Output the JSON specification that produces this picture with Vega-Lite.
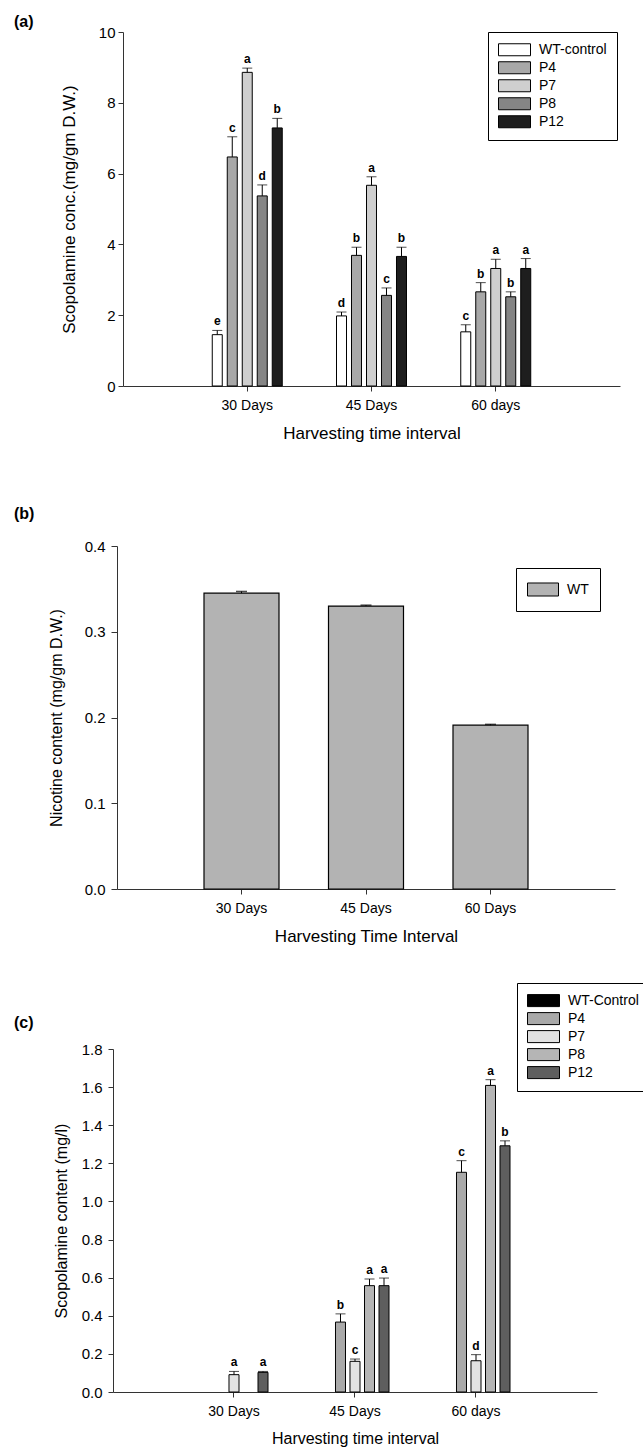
{
  "$schema": "https://vega.github.io/schema/vega-lite/v6.json",
  "background": "white",
  "padding": {"left": 14, "top": 14, "right": 0, "bottom": 4},
  "bounds": "flush",
  "spacing": 160,
  "resolve": {"scale": {"fill": "independent", "y": "independent", "x": "independent", "xOffset": "independent"}, "legend": {"fill": "independent"}},
  "config": {
    "font": "Liberation Sans",
    "view": {"stroke": null},
    "axis": {"domainColor": "#333", "tickColor": "#333", "labelColor": "black", "titleColor": "black", "grid": false, "labelFont": "Liberation Sans", "titleFont": "Liberation Sans", "titleFontWeight": "normal", "tickSize": 5, "labelFlush": false, "labelOverlap": false},
    "title": {"font": "Liberation Sans", "fontWeight": "bold", "fontSize": 16, "anchor": "start", "frame": "group", "color": "black"},
    "legend": {"labelFont": "Liberation Sans", "labelColor": "black", "strokeColor": "black", "fillColor": "white", "symbolStrokeColor": "black", "symbolStrokeWidth": 1, "symbolOpacity": 1, "title": null}
  },
  "vconcat": [
    {
      "title": {"text": "(a)", "dx": -99, "offset": -5},
      "width": 507,
      "height": 354,
      "data": {"values": [
        {"time": "30 Days", "line": "WT-control", "value": 1.45, "err": 1.57, "sig": "e"},
        {"time": "30 Days", "line": "P4", "value": 6.47, "err": 7.04, "sig": "c"},
        {"time": "30 Days", "line": "P7", "value": 8.86, "err": 8.98, "sig": "a"},
        {"time": "30 Days", "line": "P8", "value": 5.37, "err": 5.68, "sig": "d"},
        {"time": "30 Days", "line": "P12", "value": 7.29, "err": 7.56, "sig": "b"},
        {"time": "45 Days", "line": "WT-control", "value": 1.98, "err": 2.09, "sig": "d"},
        {"time": "45 Days", "line": "P4", "value": 3.69, "err": 3.92, "sig": "b"},
        {"time": "45 Days", "line": "P7", "value": 5.67, "err": 5.91, "sig": "a"},
        {"time": "45 Days", "line": "P8", "value": 2.56, "err": 2.77, "sig": "c"},
        {"time": "45 Days", "line": "P12", "value": 3.66, "err": 3.92, "sig": "b"},
        {"time": "60 days", "line": "WT-control", "value": 1.53, "err": 1.73, "sig": "c"},
        {"time": "60 days", "line": "P4", "value": 2.66, "err": 2.92, "sig": "b"},
        {"time": "60 days", "line": "P7", "value": 3.32, "err": 3.58, "sig": "a"},
        {"time": "60 days", "line": "P8", "value": 2.52, "err": 2.66, "sig": "b"},
        {"time": "60 days", "line": "P12", "value": 3.32, "err": 3.6, "sig": "a"}
      ]},
      "encoding": {
        "x": {"field": "time", "type": "nominal", "sort": ["30 Days", "45 Days", "60 days"],
          "scale": {"range": [10, 507], "paddingInner": 0.3964, "paddingOuter": 0.6982},
          "axis": {"title": "Harvesting time interval", "labelAngle": 0, "labelFontSize": 14, "titleFontSize": 17, "labelPadding": 7, "titlePadding": 13}},
        "xOffset": {"field": "line", "type": "nominal", "scale": {"domain": ["WT-control", "P4", "P7", "P8", "P12"], "paddingInner": 0.3333, "paddingOuter": 0.1667}}
      },
      "layer": [
        {
          "mark": {"type": "bar", "stroke": "black", "strokeWidth": 1},
          "encoding": {
            "y": {"field": "value", "type": "quantitative", "title": "Scopolamine conc.(mg/gm D.W.)",
              "scale": {"domain": [0, 10], "nice": false},
              "axis": {"values": [0, 2, 4, 6, 8, 10], "format": "d", "offset": -10, "labelFontSize": 15, "titleFontSize": 17, "labelPadding": 3, "titlePadding": 20, "labelOverlap": false}},
            "fill": {"field": "line", "type": "nominal",
              "scale": {"domain": ["WT-control", "P4", "P7", "P8", "P12"], "range": ["#ffffff", "#a8a8a8", "#cfcfcf", "#858585", "#1e1e1e"]},
              "legend": {"orient": "none", "legendX": 375, "legendY": 0, "symbolType": "M-1,-0.375H1V0.375H-1Z", "symbolSize": 1024, "labelFontSize": 14, "padding": 10, "clipHeight": 15.5, "rowPadding": 2, "labelOffset": 8}}
          }
        },
        {
          "mark": {"type": "rule", "color": "black", "strokeWidth": 1},
          "encoding": {"y": {"field": "value", "type": "quantitative", "title": "Scopolamine conc.(mg/gm D.W.)", "axis": {"values": [0, 2, 4, 6, 8, 10], "format": "d", "offset": -10, "labelFontSize": 15, "titleFontSize": 17, "labelPadding": 3, "titlePadding": 20, "labelOverlap": false}}, "y2": {"field": "err"}}
        },
        {
          "mark": {"type": "tick", "color": "black", "thickness": 1, "size": 10},
          "encoding": {"y": {"field": "err", "type": "quantitative", "title": "Scopolamine conc.(mg/gm D.W.)", "axis": {"values": [0, 2, 4, 6, 8, 10], "format": "d", "offset": -10, "labelFontSize": 15, "titleFontSize": 17, "labelPadding": 3, "titlePadding": 20, "labelOverlap": false}}}
        },
        {
          "mark": {"type": "text", "fontWeight": "bold", "fontSize": 12, "baseline": "bottom", "dy": -2, "color": "black"},
          "encoding": {"y": {"field": "err", "type": "quantitative", "title": "Scopolamine conc.(mg/gm D.W.)", "axis": {"values": [0, 2, 4, 6, 8, 10], "format": "d", "offset": -10, "labelFontSize": 15, "titleFontSize": 17, "labelPadding": 3, "titlePadding": 20, "labelOverlap": false}}, "text": {"field": "sig"}}
        }
      ]
    },
    {
      "title": {"text": "(b)", "dx": -99, "offset": 17},
      "width": 502,
      "height": 343,
      "data": {"values": [
        {"time": "30 Days", "line": "WT", "value": 0.345, "err": 0.347},
        {"time": "45 Days", "line": "WT", "value": 0.33, "err": 0.331},
        {"time": "60 Days", "line": "WT", "value": 0.191, "err": 0.192}
      ]},
      "encoding": {
        "x": {"field": "time", "type": "nominal", "sort": ["30 Days", "45 Days", "60 Days"],
          "scale": {"range": [4, 502], "paddingInner": 0.3976, "paddingOuter": 0.6988},
          "axis": {"title": "Harvesting Time Interval", "labelAngle": 0, "labelFontSize": 14, "titleFontSize": 17, "labelPadding": 7, "titlePadding": 13}}
      },
      "layer": [
        {
          "mark": {"type": "bar", "stroke": "black", "strokeWidth": 1.2},
          "encoding": {
            "y": {"field": "value", "type": "quantitative", "title": "Nicotine content (mg/gm D.W.)",
              "scale": {"domain": [0, 0.4], "nice": false},
              "axis": {"values": [0, 0.1, 0.2, 0.3, 0.4], "format": ".1f", "offset": -4, "tickSize": 6, "labelFontSize": 15, "titleFontSize": 16, "labelPadding": 6, "titlePadding": 20, "labelOverlap": false}},
            "fill": {"field": "line", "type": "nominal",
              "scale": {"domain": ["WT"], "range": ["#b3b3b3"]},
              "legend": {"orient": "none", "legendX": 403, "legendY": 22, "symbolType": "M-1,-0.42H1V0.42H-1Z", "symbolSize": 961, "labelFontSize": 14, "padding": 11, "clipHeight": 21, "labelOffset": 8}}
          }
        },
        {
          "mark": {"type": "rule", "color": "black", "strokeWidth": 1},
          "encoding": {"y": {"field": "value", "type": "quantitative", "title": "Nicotine content (mg/gm D.W.)", "axis": {"values": [0, 0.1, 0.2, 0.3, 0.4], "format": ".1f", "offset": -4, "tickSize": 6, "labelFontSize": 15, "titleFontSize": 16, "labelPadding": 6, "titlePadding": 20, "labelOverlap": false}}, "y2": {"field": "err"}}
        },
        {
          "mark": {"type": "tick", "color": "black", "thickness": 1.5, "size": 11},
          "encoding": {"y": {"field": "err", "type": "quantitative", "title": "Nicotine content (mg/gm D.W.)", "axis": {"values": [0, 0.1, 0.2, 0.3, 0.4], "format": ".1f", "offset": -4, "tickSize": 6, "labelFontSize": 15, "titleFontSize": 16, "labelPadding": 6, "titlePadding": 20, "labelOverlap": false}}}
        }
      ]
    },
    {
      "title": {"text": "(c)", "dx": -99, "offset": -48},
      "width": 484,
      "height": 343,
      "data": {"values": [
        {"time": "30 Days", "line": "P7", "value": 0.091, "err": 0.108, "sig": "a"},
        {"time": "30 Days", "line": "P12", "value": 0.103, "err": 0.108, "sig": "a"},
        {"time": "45 Days", "line": "P4", "value": 0.367, "err": 0.41, "sig": "b"},
        {"time": "45 Days", "line": "P7", "value": 0.161, "err": 0.173, "sig": "c"},
        {"time": "45 Days", "line": "P8", "value": 0.558, "err": 0.593, "sig": "a"},
        {"time": "45 Days", "line": "P12", "value": 0.558, "err": 0.598, "sig": "a"},
        {"time": "60 days", "line": "P4", "value": 1.153, "err": 1.214, "sig": "c"},
        {"time": "60 days", "line": "P7", "value": 0.164, "err": 0.196, "sig": "d"},
        {"time": "60 days", "line": "P8", "value": 1.609, "err": 1.639, "sig": "a"},
        {"time": "60 days", "line": "P12", "value": 1.292, "err": 1.318, "sig": "b"}
      ]},
      "encoding": {
        "x": {"field": "time", "type": "nominal", "sort": ["30 Days", "45 Days", "60 days"],
          "scale": {"domain": ["30 Days", "45 Days", "60 days"], "range": [0, 484], "paddingInner": 0.4008, "paddingOuter": 0.7004},
          "axis": {"title": "Harvesting time interval", "labelAngle": 0, "labelFontSize": 14, "titleFontSize": 16, "labelPadding": 7, "titlePadding": 12}},
        "xOffset": {"field": "line", "type": "nominal", "scale": {"domain": ["WT-Control", "P4", "P7", "P8", "P12"], "paddingInner": 0.3103, "paddingOuter": 0.155}}
      },
      "layer": [
        {
          "mark": {"type": "bar", "stroke": "black", "strokeWidth": 1},
          "encoding": {
            "y": {"field": "value", "type": "quantitative", "title": "Scopolamine content (mg/l)",
              "scale": {"domain": [0, 1.8], "nice": false},
              "axis": {"values": [0, 0.2, 0.4, 0.6, 0.8, 1, 1.2, 1.4, 1.6, 1.8], "format": ".1f", "labelFontSize": 15, "titleFontSize": 16, "labelPadding": 6, "titlePadding": 12, "labelOverlap": false}},
            "fill": {"field": "line", "type": "nominal",
              "scale": {"domain": ["WT-Control", "P4", "P7", "P8", "P12"], "range": ["#000000", "#a9a9a9", "#e2e2e2", "#b5b5b5", "#5e5e5e"]},
              "legend": {"orient": "none", "legendX": 404, "legendY": -66, "symbolType": "M-1,-0.375H1V0.375H-1Z", "symbolSize": 1024, "labelFontSize": 14, "padding": 10, "clipHeight": 15.2, "rowPadding": 2, "labelOffset": 8}}
          }
        },
        {
          "mark": {"type": "rule", "color": "black", "strokeWidth": 1},
          "encoding": {"y": {"field": "value", "type": "quantitative", "title": "Scopolamine content (mg/l)", "axis": {"values": [0, 0.2, 0.4, 0.6, 0.8, 1, 1.2, 1.4, 1.6, 1.8], "format": ".1f", "labelFontSize": 15, "titleFontSize": 16, "labelPadding": 6, "titlePadding": 12, "labelOverlap": false}}, "y2": {"field": "err"}}
        },
        {
          "mark": {"type": "tick", "color": "black", "thickness": 1, "size": 10},
          "encoding": {"y": {"field": "err", "type": "quantitative", "title": "Scopolamine content (mg/l)", "axis": {"values": [0, 0.2, 0.4, 0.6, 0.8, 1, 1.2, 1.4, 1.6, 1.8], "format": ".1f", "labelFontSize": 15, "titleFontSize": 16, "labelPadding": 6, "titlePadding": 12, "labelOverlap": false}}}
        },
        {
          "mark": {"type": "text", "fontWeight": "bold", "fontSize": 12, "baseline": "bottom", "dy": -2, "color": "black"},
          "encoding": {"y": {"field": "err", "type": "quantitative", "title": "Scopolamine content (mg/l)", "axis": {"values": [0, 0.2, 0.4, 0.6, 0.8, 1, 1.2, 1.4, 1.6, 1.8], "format": ".1f", "labelFontSize": 15, "titleFontSize": 16, "labelPadding": 6, "titlePadding": 12, "labelOverlap": false}}, "text": {"field": "sig"}}
        }
      ]
    }
  ]
}
